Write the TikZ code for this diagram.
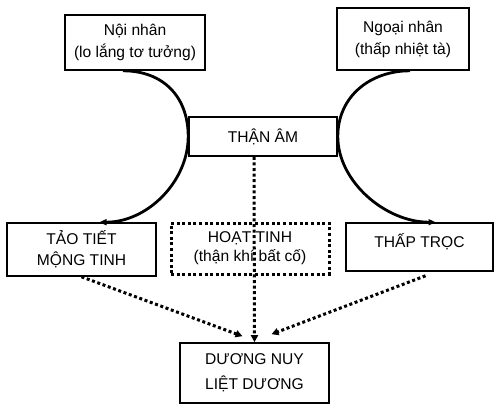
\documentclass[tikz,border=0pt]{standalone}
\usepackage{fontspec}
\setmainfont{Liberation Sans}
\usetikzlibrary{arrows.meta}
\begin{document}
\begin{tikzpicture}[x=1pt,y=-1pt,
  box/.style={draw,line width=1.6pt,inner sep=0pt,align=center,
    font=\fontsize{15.6}{22}\selectfont},
  dotbox/.style={box,line width=3pt,dash pattern=on 3pt off 2.6pt},
  arc/.style={line width=2.8pt,-{Triangle[length=7pt,width=6pt]}},
  dotarrow/.style={line width=3pt,dash pattern=on 3pt off 2.6pt,
    -{Triangle[length=7pt,width=7pt]}}]
  \useasboundingbox (0,0) rectangle (500,412);
  % causes
  \node[box,minimum width=140pt,minimum height=55pt] (noi) at (135,42.5)
    {Nội nhân\\(lo lắng tơ tưởng)};
  \node[box,minimum width=132pt,minimum height=62pt] (ngoai) at (403,39)
    {Ngoại nhân\\(thấp nhiệt tà)};
  % kidney yin
  \node[box,minimum width=148pt,minimum height=39pt] (than) at (263,136.5)
    {THẬN ÂM};
  % middle row
  \node[box,minimum width=149pt,minimum height=53pt] (tao) at (81.5,249.5)
    {TẢO TIẾT\\[-1pt]MỘNG TINH};
  \node[dotbox,minimum width=158pt,minimum height=51pt] (hoat) at (250,248.5)
    {HOẠT TINH\\[-3pt](thận khí bất cố)};
  \node[box,minimum width=147pt,minimum height=48pt,text height=12pt,
    text depth=10.8pt] (thap) at (419.5,247) {THẤP TRỌC};
  % result
  \node[box,minimum width=149pt,minimum height=60pt] (duong) at (254.5,373)
    {DƯƠNG NUY\\[3pt]LIỆT DƯƠNG};
  % curved arrows
  \draw[arc] ([xshift=-12pt]noi.south) .. controls +(40,0) and +(0,-40) .. (than.west)
    .. controls +(0,45) and +(48,0) .. ([xshift=18pt]tao.north);
  \draw[arc] ([xshift=7pt]ngoai.south) .. controls +(-40,0) and +(0,-40) .. (than.east)
    .. controls +(0,45) and +(-50,0) .. ([xshift=16pt]thap.north);
  % dotted arrows
  \draw[dotarrow] ([xshift=-9pt]than.south) -- (duong.north);
  \draw[dotarrow] (tao.south) -- ([xshift=-12pt,yshift=6pt]duong.north);
  \draw[dotarrow] ([xshift=6pt,yshift=-4pt]thap.south) -- ([xshift=17pt,yshift=8pt]duong.north);
\end{tikzpicture}
\end{document}
